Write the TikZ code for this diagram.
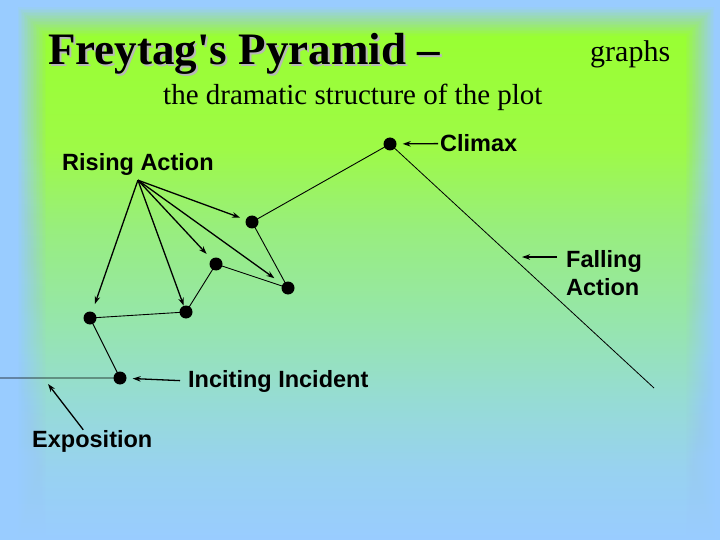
\documentclass[tikz,border=0pt]{standalone}
\usepackage{fontspec}
\setmainfont{Liberation Serif}
\setsansfont{Liberation Sans}
\usepackage{tikz}
\usetikzlibrary{arrows.meta, calc}
\definecolor{SkyBlue}{RGB}{153,204,255}
\definecolor{Lime}{RGB}{153,255,51}
\definecolor{BgA}{RGB}{158,250,70}
\definecolor{BgB}{RGB}{152,238,125}
\definecolor{BgC}{RGB}{150,230,170}
\definecolor{BgD}{RGB}{150,220,212}
\definecolor{BgE}{RGB}{152,210,240}
\pgfdeclareverticalshading{slidebg}{100bp}{color(0bp)=(SkyBlue); color(25bp)=(SkyBlue);
  color(32bp)=(BgE); color(39bp)=(BgD); color(47bp)=(BgC); color(56bp)=(BgB);
  color(64bp)=(BgA); color(75bp)=(Lime); color(100bp)=(Lime)}
\newcommand\dropshadow[1]{\makebox[0pt][l]{\hspace{2pt}\raisebox{-2pt}{\color{black!28}#1}}#1}

\begin{document}
\begin{tikzpicture}[x=1pt, y=-1pt,
          plotdot/.style={circle, fill=black, inner sep=0pt, minimum size=13pt},
          plotline/.style={line width=0.9pt},
          ptr/.style={-{Stealth[length=8pt, width=5.5pt]}, line width=1.3pt},
          lbl/.style={font=\sffamily\bfseries\fontsize{23.5}{28.5}\selectfont,
                      inner sep=0pt, anchor=base west}
        ]
        \useasboundingbox (0,0) rectangle (720,540);

        % slide background, soft edged
        \fill[SkyBlue] (0,0) rectangle (720,540);
        \foreach \k in {0,...,19}{
          \pgfmathsetmacro\op{1/(20-\k)}
          \shade[shading=slidebg, opacity=\op]
                ({18+1.5*\k},{8+1.5*\k}) rectangle ({714-1.5*\k},540);
        }

        % headings
        \node[font=\bfseries\fontsize{45}{54}\selectfont, inner sep=0pt,
              anchor=base west] (title) at (48,65)
              {\dropshadow{Freytag\textquotesingle s Pyramid –}};
        \node[font=\fontsize{30}{36}\selectfont, inner sep=0pt,
              anchor=base west] (genre) at (590,62) {graphs};
        \node[font=\fontsize{29}{35}\selectfont, inner sep=0pt,
              anchor=base west] (subtitle) at (163,105)
              {the dramatic structure of the plot};

        % plot points
        \node[plotdot] (inciting) at (120,378) {};
        \node[plotdot] (p1)       at (90,318)  {};
        \node[plotdot] (p2)       at (186,312) {};
        \node[plotdot] (p3)       at (216,264) {};
        \node[plotdot] (p4)       at (288,288) {};
        \node[plotdot] (p5)       at (252,222) {};
        \node[plotdot] (climax)   at (390,144) {};
        \coordinate (start) at (0,378);
        \coordinate (finish) at (654,388);

        \draw[plotline] (start) -- (inciting.center) -- (p1.center)
              -- (p2.center) -- (p3.center) -- (p4.center)
              -- (p5.center) -- (climax.center);
        \draw[line width=0.8pt] (climax.center) -- (finish);

        % labels
        \node[lbl] (rising) at (62,171) {Rising Action};
        \node[lbl] (climax-lbl) at (440,152) {Climax};
        \node[lbl, anchor=north west, align=left] (falling-lbl) at (566,250)
              {Falling\\Action};
        \node[lbl] (inciting-lbl) at (188,387) {Inciting Incident};
        \node[lbl] (expo-lbl) at (32,447) {Exposition};

        \coordinate (rise-o) at ([yshift=-4pt]rising.south);
        \coordinate (fall-pt) at (522,257);
        \coordinate (expo-pt) at (48,384);

        \foreach \p/\s in {p1/8pt, p2/0pt, p3/7pt, p4/10pt, p5/6pt}
          \draw[ptr, shorten >=\s] (rise-o) -- (\p);

        \draw[ptr, shorten <=2pt, shorten >=6pt] (climax-lbl.west) -- (climax);
        \draw[ptr, shorten <=9pt] ([yshift=-7pt]falling-lbl.north west) -- (fall-pt);
        \draw[ptr, shorten <=8pt, shorten >=6pt] (inciting-lbl.west) -- (inciting);
        \draw[ptr] ([xshift=-9pt]expo-lbl.north) -- (expo-pt);
      \end{tikzpicture}
\end{document}
